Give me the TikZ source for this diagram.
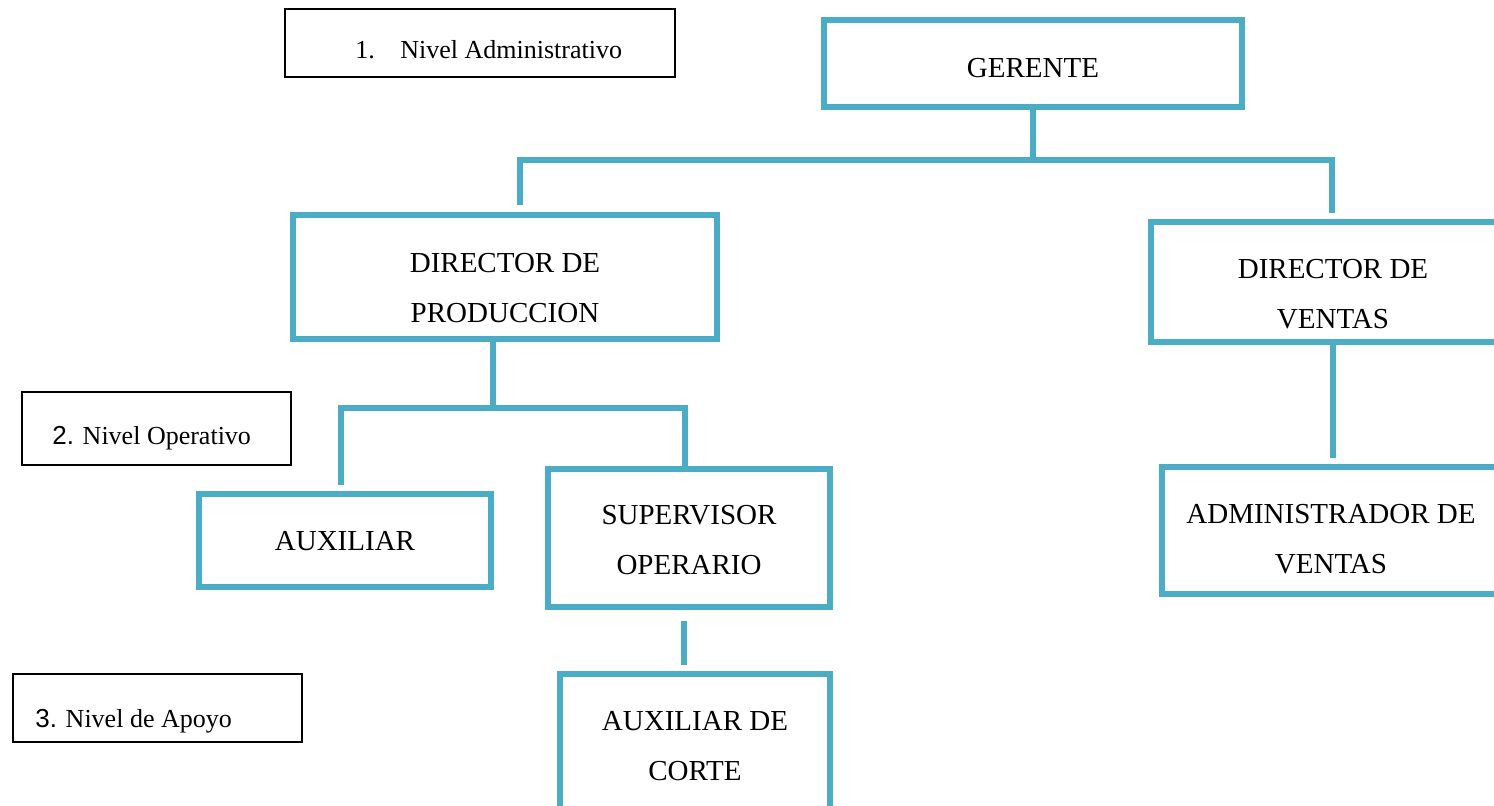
\documentclass[tikz,border=0pt]{standalone}
\usepackage{fontspec}
\setmainfont{Liberation Serif}
\newfontfamily\arialf{Liberation Sans}
\definecolor{acc}{HTML}{4BACC6}
\begin{document}
\begin{tikzpicture}[x=0.5pt,y=-0.5pt,
  orgbox/.style={draw=acc, line width=3pt, inner sep=0pt},
  orgtext/.style={align=center, inner sep=0pt, font=\fontsize{14.5}{25}\selectfont},
  lvlbox/.style={draw=black, line width=0.9pt, inner sep=0pt},
  lvltext/.style={anchor=base west, inner sep=0pt, font=\fontsize{13}{16}\selectfont},
  conn/.style={draw=acc, line width=3pt, line join=miter}]
\useasboundingbox (0,0) rectangle (1494,805);
\clip (0,0) rectangle (1494,805);
\fill[white] (0,0) rectangle (1494,805);

% level labels
\node[lvlbox, minimum width=195pt, minimum height=34pt] (l1) at (480,43) {};
\node[lvltext] (l1n) at (355,58) {1.};
\node[lvltext] (l1t) at (400,58) {Nivel Administrativo};
\node[lvlbox, minimum width=134.5pt, minimum height=36.5pt] (l2) at (156.5,428.5) {};
\node[lvltext] (l2t) at (52,444) {{\arialf 2.} Nivel Operativo};
\node[lvlbox, minimum width=144.5pt, minimum height=34pt] (l3) at (157.5,708) {};
\node[lvltext] (l3t) at (35,727) {{\arialf 3.} Nivel de Apoyo};

% org boxes
\node[orgbox, minimum width=209pt, minimum height=43.5pt,
  label={[orgtext,yshift=-2.5pt]center:GERENTE}] (ger) at (1033,63.5) {};
\node[orgbox, minimum width=212pt, minimum height=62pt,
  label={[orgtext,yshift=-5.5pt]center:DIRECTOR DE\\PRODUCCION}] (dp) at (505,277) {};
\node[orgbox, minimum width=182pt, minimum height=60pt,
  label={[orgtext,yshift=-6pt]center:DIRECTOR DE\\VENTAS}] (dv) at (1333,282) {};
\node[orgbox, minimum width=146pt, minimum height=46.5pt,
  label={[orgtext,yshift=-0.5pt]center:AUXILIAR}] (aux) at (345,540.5) {};
\node[orgbox, minimum width=141pt, minimum height=69pt,
  label={[orgtext,yshift=-1pt]center:SUPERVISOR\\OPERARIO}] (sup) at (689,538) {};
\node[orgbox, minimum width=169pt, minimum height=63.5pt,
  label={[orgtext,yshift=-4.5pt]center:ADMINISTRADOR DE\\VENTAS}] (adm) at (1331,530.5) {};
\node[orgbox, minimum width=135pt, minimum height=72pt,
  label={[orgtext]center:AUXILIAR DE\\CORTE}] (auxc) at (695,746) {};

% connectors
\coordinate (bus1) at (1033,160);
\coordinate (dpTop) at (520,205);
\coordinate (dvTop) at (1332,213);
\draw[conn] (ger.south) -- (bus1);
\draw[conn] (dpTop) |- (dvTop |- bus1) -- (dvTop);

\coordinate (bus2) at (493,408);
\coordinate (auxTop) at (341,485);
\coordinate (supTop) at (685,466);
\draw[conn] (dp.south -| bus2) -- (bus2);
\draw[conn] (auxTop) |- (supTop |- bus2) -- (supTop);

\coordinate (c1) at (684,621);
\coordinate (c2) at (684,665);
\draw[conn] (c1) -- (c2);

\coordinate (admTop) at (1332,458);
\draw[conn] (dv.south) -- (dv.south |- admTop);
\end{tikzpicture}
\end{document}
